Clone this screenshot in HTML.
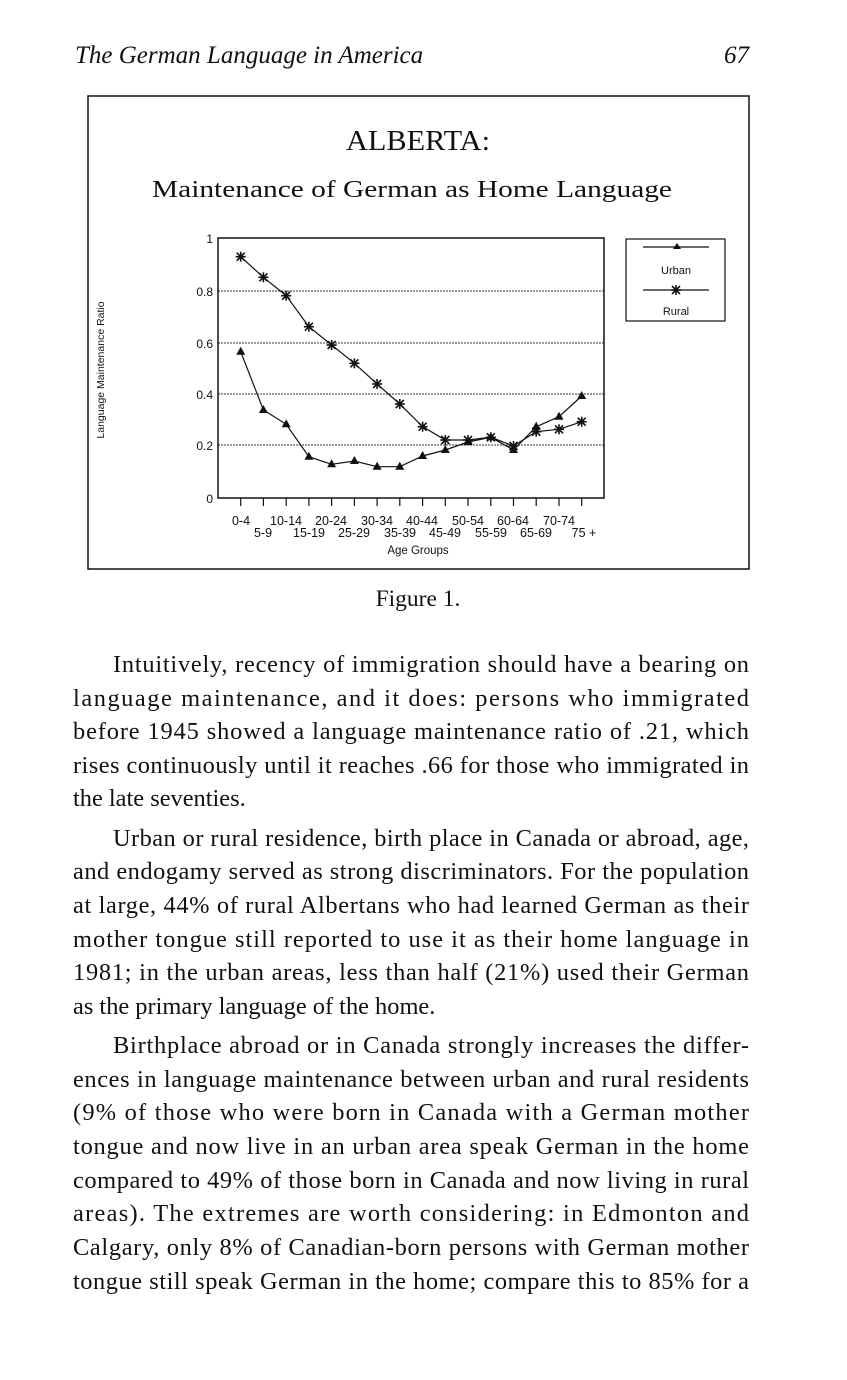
<!DOCTYPE html>
<html><head><meta charset="utf-8"><style>
html,body{margin:0;padding:0;background:#fff;}
svg{display:block;}
.b{font-family:"Liberation Serif",serif;font-size:24.4px;fill:#111;}
.s{font-family:"Liberation Sans",sans-serif;fill:#111;}
</style></head><body>
<svg width="847" height="1380" viewBox="0 0 847 1380" xmlns="http://www.w3.org/2000/svg">
<defs>
<g id="ast" stroke="#111" stroke-width="1.6">
<line x1="-5" y1="0" x2="5" y2="0"/><line x1="0" y1="-5" x2="0" y2="5"/>
<line x1="-4" y1="-4" x2="4" y2="4"/><line x1="-4" y1="4" x2="4" y2="-4"/>
</g>
</defs>
<text x="75" y="63" font-family="Liberation Serif" font-style="italic" font-size="25" fill="#111">The German Language in America</text>
<text x="749" y="63" font-family="Liberation Serif" font-style="italic" font-size="25" fill="#111" text-anchor="end">67</text>
<rect x="88" y="96" width="661" height="473" fill="none" stroke="#111" stroke-width="1.5"/>
<text x="418" y="150" font-family="Liberation Serif" font-size="29" fill="#111" text-anchor="middle" textLength="144" lengthAdjust="spacingAndGlyphs">ALBERTA:</text>
<text x="412" y="197" font-family="Liberation Serif" font-size="24" fill="#111" text-anchor="middle" textLength="520" lengthAdjust="spacingAndGlyphs">Maintenance of German as Home Language</text>
<g stroke="#333" stroke-width="1" stroke-dasharray="2,1">
<line x1="218" y1="291" x2="604" y2="291"/>
<line x1="218" y1="343" x2="604" y2="343"/>
<line x1="218" y1="394" x2="604" y2="394"/>
<line x1="218" y1="445" x2="604" y2="445"/>
</g>
<rect x="218" y="238" width="386" height="260" fill="none" stroke="#111" stroke-width="1.5"/>
<g class="s" font-size="12" text-anchor="end">
<text x="213" y="243">1</text><text x="213" y="296">0.8</text><text x="213" y="348">0.6</text>
<text x="213" y="399">0.4</text><text x="213" y="450">0.2</text><text x="213" y="503">0</text>
</g>
<text class="s" font-size="10.5" transform="translate(104,370) rotate(-90)" text-anchor="middle">Language Maintenance Ratio</text>
<g stroke="#111" stroke-width="1.2">
<line x1="240.7" y1="498" x2="240.7" y2="506"/><line x1="263.4" y1="498" x2="263.4" y2="506"/><line x1="286.2" y1="498" x2="286.2" y2="506"/><line x1="308.9" y1="498" x2="308.9" y2="506"/><line x1="331.6" y1="498" x2="331.6" y2="506"/><line x1="354.4" y1="498" x2="354.4" y2="506"/><line x1="377.1" y1="498" x2="377.1" y2="506"/><line x1="399.8" y1="498" x2="399.8" y2="506"/><line x1="422.6" y1="498" x2="422.6" y2="506"/><line x1="445.3" y1="498" x2="445.3" y2="506"/><line x1="468" y1="498" x2="468" y2="506"/><line x1="490.8" y1="498" x2="490.8" y2="506"/><line x1="513.5" y1="498" x2="513.5" y2="506"/><line x1="536.2" y1="498" x2="536.2" y2="506"/><line x1="559" y1="498" x2="559" y2="506"/><line x1="581.7" y1="498" x2="581.7" y2="506"/>
</g>
<g class="s" font-size="12.5" text-anchor="middle">
<text x="241" y="525">0-4</text><text x="286" y="525">10-14</text><text x="331" y="525">20-24</text><text x="377" y="525">30-34</text><text x="422" y="525">40-44</text><text x="468" y="525">50-54</text><text x="513" y="525">60-64</text><text x="559" y="525">70-74</text>
<text x="263" y="537">5-9</text><text x="309" y="537">15-19</text><text x="354" y="537">25-29</text><text x="400" y="537">35-39</text><text x="445" y="537">45-49</text><text x="491" y="537">55-59</text><text x="536" y="537">65-69</text><text x="584" y="537">75 +</text>
<text x="418" y="554" font-size="11.5">Age Groups</text>
</g>
<polyline fill="none" stroke="#111" stroke-width="1.2" points="240.7,351.7 263.4,410 286.2,424.3 308.9,456.7 331.6,464.3 354.4,461 377.1,466.7 399.8,466.7 422.6,456 445.3,450 468,442 490.8,437.3 513.5,450 536.2,426.7 559,416.7 581.7,396"/>
<g fill="#111">
<polygon points="240.7,346.7 236.2,354.7 245.2,354.7"/><polygon points="263.4,405 258.9,413 267.9,413"/><polygon points="286.2,419.3 281.7,427.3 290.7,427.3"/><polygon points="308.9,451.7 304.4,459.7 313.4,459.7"/><polygon points="331.6,459.3 327.1,467.3 336.1,467.3"/><polygon points="354.4,456 349.9,464 358.9,464"/><polygon points="377.1,461.7 372.6,469.7 381.6,469.7"/><polygon points="399.8,461.7 395.3,469.7 404.3,469.7"/><polygon points="422.6,451 418.1,459 427.1,459"/><polygon points="445.3,445 440.8,453 449.8,453"/><polygon points="468,437 463.5,445 472.5,445"/><polygon points="490.8,432.3 486.3,440.3 495.3,440.3"/><polygon points="513.5,445 509,453 518,453"/><polygon points="536.2,421.7 531.7,429.7 540.7,429.7"/><polygon points="559,411.7 554.5,419.7 563.5,419.7"/><polygon points="581.7,391 577.2,399 586.2,399"/>
</g>
<polyline fill="none" stroke="#111" stroke-width="1.2" points="240.7,256.7 263.4,277.3 286.2,295.7 308.9,326.7 331.6,345 354.4,363.3 377.1,384 399.8,404 422.6,426.7 445.3,440 468,440 490.8,437.3 513.5,446 536.2,431.7 559,429.3 581.7,421.7"/>
<use href="#ast" x="240.7" y="256.7"/><use href="#ast" x="263.4" y="277.3"/><use href="#ast" x="286.2" y="295.7"/><use href="#ast" x="308.9" y="326.7"/><use href="#ast" x="331.6" y="345"/><use href="#ast" x="354.4" y="363.3"/><use href="#ast" x="377.1" y="384"/><use href="#ast" x="399.8" y="404"/><use href="#ast" x="422.6" y="426.7"/><use href="#ast" x="445.3" y="440"/><use href="#ast" x="468" y="440"/><use href="#ast" x="490.8" y="437.3"/><use href="#ast" x="513.5" y="446"/><use href="#ast" x="536.2" y="431.7"/><use href="#ast" x="559" y="429.3"/><use href="#ast" x="581.7" y="421.7"/>
<rect x="626" y="239" width="99" height="82" fill="none" stroke="#111" stroke-width="1.2"/>
<line x1="643" y1="247" x2="709" y2="247" stroke="#111" stroke-width="1.2"/>
<polygon points="677,243 673,249 681,249" fill="#111"/>
<text class="s" x="676" y="274" font-size="11" text-anchor="middle">Urban</text>
<line x1="643" y1="290" x2="709" y2="290" stroke="#111" stroke-width="1.2"/>
<use href="#ast" x="676" y="290"/>
<text class="s" x="676" y="315" font-size="11" text-anchor="middle">Rural</text>
<text x="418" y="606" font-family="Liberation Serif" font-size="23.5" fill="#111" text-anchor="middle">Figure 1.</text>
<g class="b">
<text x="113" y="672" textLength="636" lengthAdjust="spacing">Intuitively, recency of immigration should have a bearing on</text>
<text x="73" y="706" textLength="676" lengthAdjust="spacing">language maintenance, and it does: persons who immigrated</text>
<text x="73" y="739" textLength="676" lengthAdjust="spacing">before 1945 showed a language maintenance ratio of .21, which</text>
<text x="73" y="773" textLength="676" lengthAdjust="spacing">rises continuously until it reaches .66 for those who immigrated in</text>
<text x="73" y="806">the late seventies.</text>
<text x="113" y="846" textLength="636" lengthAdjust="spacing">Urban or rural residence, birth place in Canada or abroad, age,</text>
<text x="73" y="879" textLength="676" lengthAdjust="spacing">and endogamy served as strong discriminators. For the population</text>
<text x="73" y="913" textLength="676" lengthAdjust="spacing">at large, 44% of rural Albertans who had learned German as their</text>
<text x="73" y="947" textLength="676" lengthAdjust="spacing">mother tongue still reported to use it as their home language in</text>
<text x="73" y="980" textLength="676" lengthAdjust="spacing">1981; in the urban areas, less than half (21%) used their German</text>
<text x="73" y="1014">as the primary language of the home.</text>
<text x="113" y="1053" textLength="636" lengthAdjust="spacing">Birthplace abroad or in Canada strongly increases the differ-</text>
<text x="73" y="1087" textLength="676" lengthAdjust="spacing">ences in language maintenance between urban and rural residents</text>
<text x="73" y="1120" textLength="676" lengthAdjust="spacing">(9% of those who were born in Canada with a German mother</text>
<text x="73" y="1154" textLength="676" lengthAdjust="spacing">tongue and now live in an urban area speak German in the home</text>
<text x="73" y="1188" textLength="676" lengthAdjust="spacing">compared to 49% of those born in Canada and now living in rural</text>
<text x="73" y="1221" textLength="676" lengthAdjust="spacing">areas). The extremes are worth considering: in Edmonton and</text>
<text x="73" y="1255" textLength="676" lengthAdjust="spacing">Calgary, only 8% of Canadian-born persons with German mother</text>
<text x="73" y="1289" textLength="676" lengthAdjust="spacing">tongue still speak German in the home; compare this to 85% for a</text>
</g>
</svg>
</body></html>
